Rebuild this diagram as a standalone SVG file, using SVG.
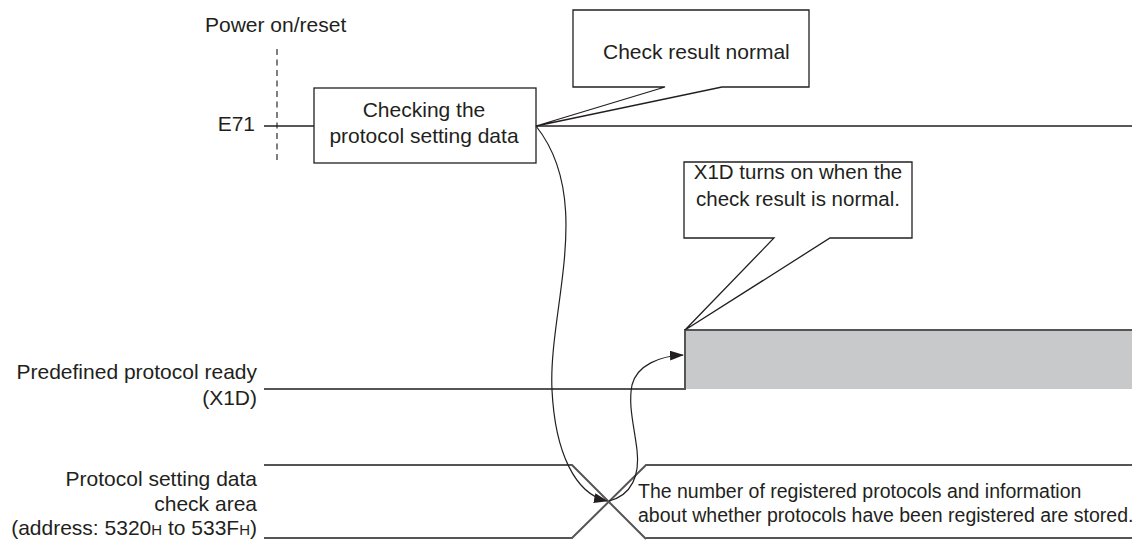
<svg xmlns="http://www.w3.org/2000/svg" width="1141" height="540" viewBox="0 0 1141 540">
<style>
text{font-family:"Liberation Sans",Arial,sans-serif;font-size:21px;fill:#231f20}
.ann{font-size:19.5px}
.thin{fill:none;stroke:#231f20;stroke-width:1.3}
.sig{fill:none;stroke:#555;stroke-width:2}
.box{fill:#fff;stroke:#231f20;stroke-width:1.3}
.curve{fill:none;stroke:#231f20;stroke-width:1.2}
</style>
<defs>
<marker id="ah" viewBox="0 0 14 10" refX="13" refY="5" markerWidth="14" markerHeight="10" markerUnits="userSpaceOnUse" orient="auto">
<path d="M0,0 L14,5 L0,10 Z" fill="#231f20"/>
</marker>
</defs>
<g id="power-on">
<text x="205" y="32">Power on/reset</text>
<line x1="277" y1="49" x2="277" y2="163" stroke="#555" stroke-width="1.5" stroke-dasharray="6,4.5"/>
</g>
<g id="e71">
<text x="255" y="131" text-anchor="end">E71</text>
<line class="thin" x1="264" y1="126" x2="314" y2="126"/>
<line class="thin" x1="536" y1="126" x2="1132" y2="126"/>
</g>
<g id="checking-box">
<rect class="box" x="314" y="88" width="222" height="75"/>
<text x="424" y="117" text-anchor="middle">Checking the</text>
<text x="424" y="143" text-anchor="middle">protocol setting data</text>
</g>
<g id="callout-normal">
<path class="box" d="M573,10 H809 V87 H722 L536,126 L665,87 H573 Z"/>
<text x="603" y="59">Check result normal</text>
</g>
<g id="x1d-signal">
<text x="257" y="379" text-anchor="end">Predefined protocol ready</text>
<text x="257" y="405" text-anchor="end">(X1D)</text>
<rect x="685" y="330" width="447" height="59" fill="#c8c9cb"/>
<path class="sig" d="M264,389 H685 V330 H1132"/>
</g>
<g id="callout-x1d">
<path class="box" d="M684,162 H912 V238 H830 L685,330 L774,238 H684 Z"/>
<text x="798" y="179" text-anchor="middle" style="font-size:20.5px">X1D turns on when the</text>
<text x="798" y="206" text-anchor="middle" style="font-size:20.5px">check result is normal.</text>
</g>
<g id="check-area">
<text x="257" y="486" text-anchor="end">Protocol setting data</text>
<text x="257" y="511" text-anchor="end">check area</text>
<text x="257" y="535" text-anchor="end">(address: 5320<tspan style="font-size:15px">H</tspan> to 533F<tspan style="font-size:15px">H</tspan>)</text>
<path class="sig" d="M264,465 H572 L646,539"/>
<path class="sig" d="M264,538 H572 L646,465 H1132"/>
<path class="sig" d="M646,538 H1132"/>
<text class="ann" x="638" y="498">The number of registered protocols and information</text>
<text class="ann" x="638" y="522">about whether protocols have been registered are stored.</text>
</g>
<g id="connectors">
<path class="curve" marker-end="url(#ah)" d="M536,126 C595,200 548,310 552,390 C555,452 575,494 607,501"/>
<path class="curve" marker-end="url(#ah)" d="M609,501 C632,495 640,475 637,450 C634,425 628,405 632,385 C637,365 660,356 683,355"/>
</g>
</svg>
